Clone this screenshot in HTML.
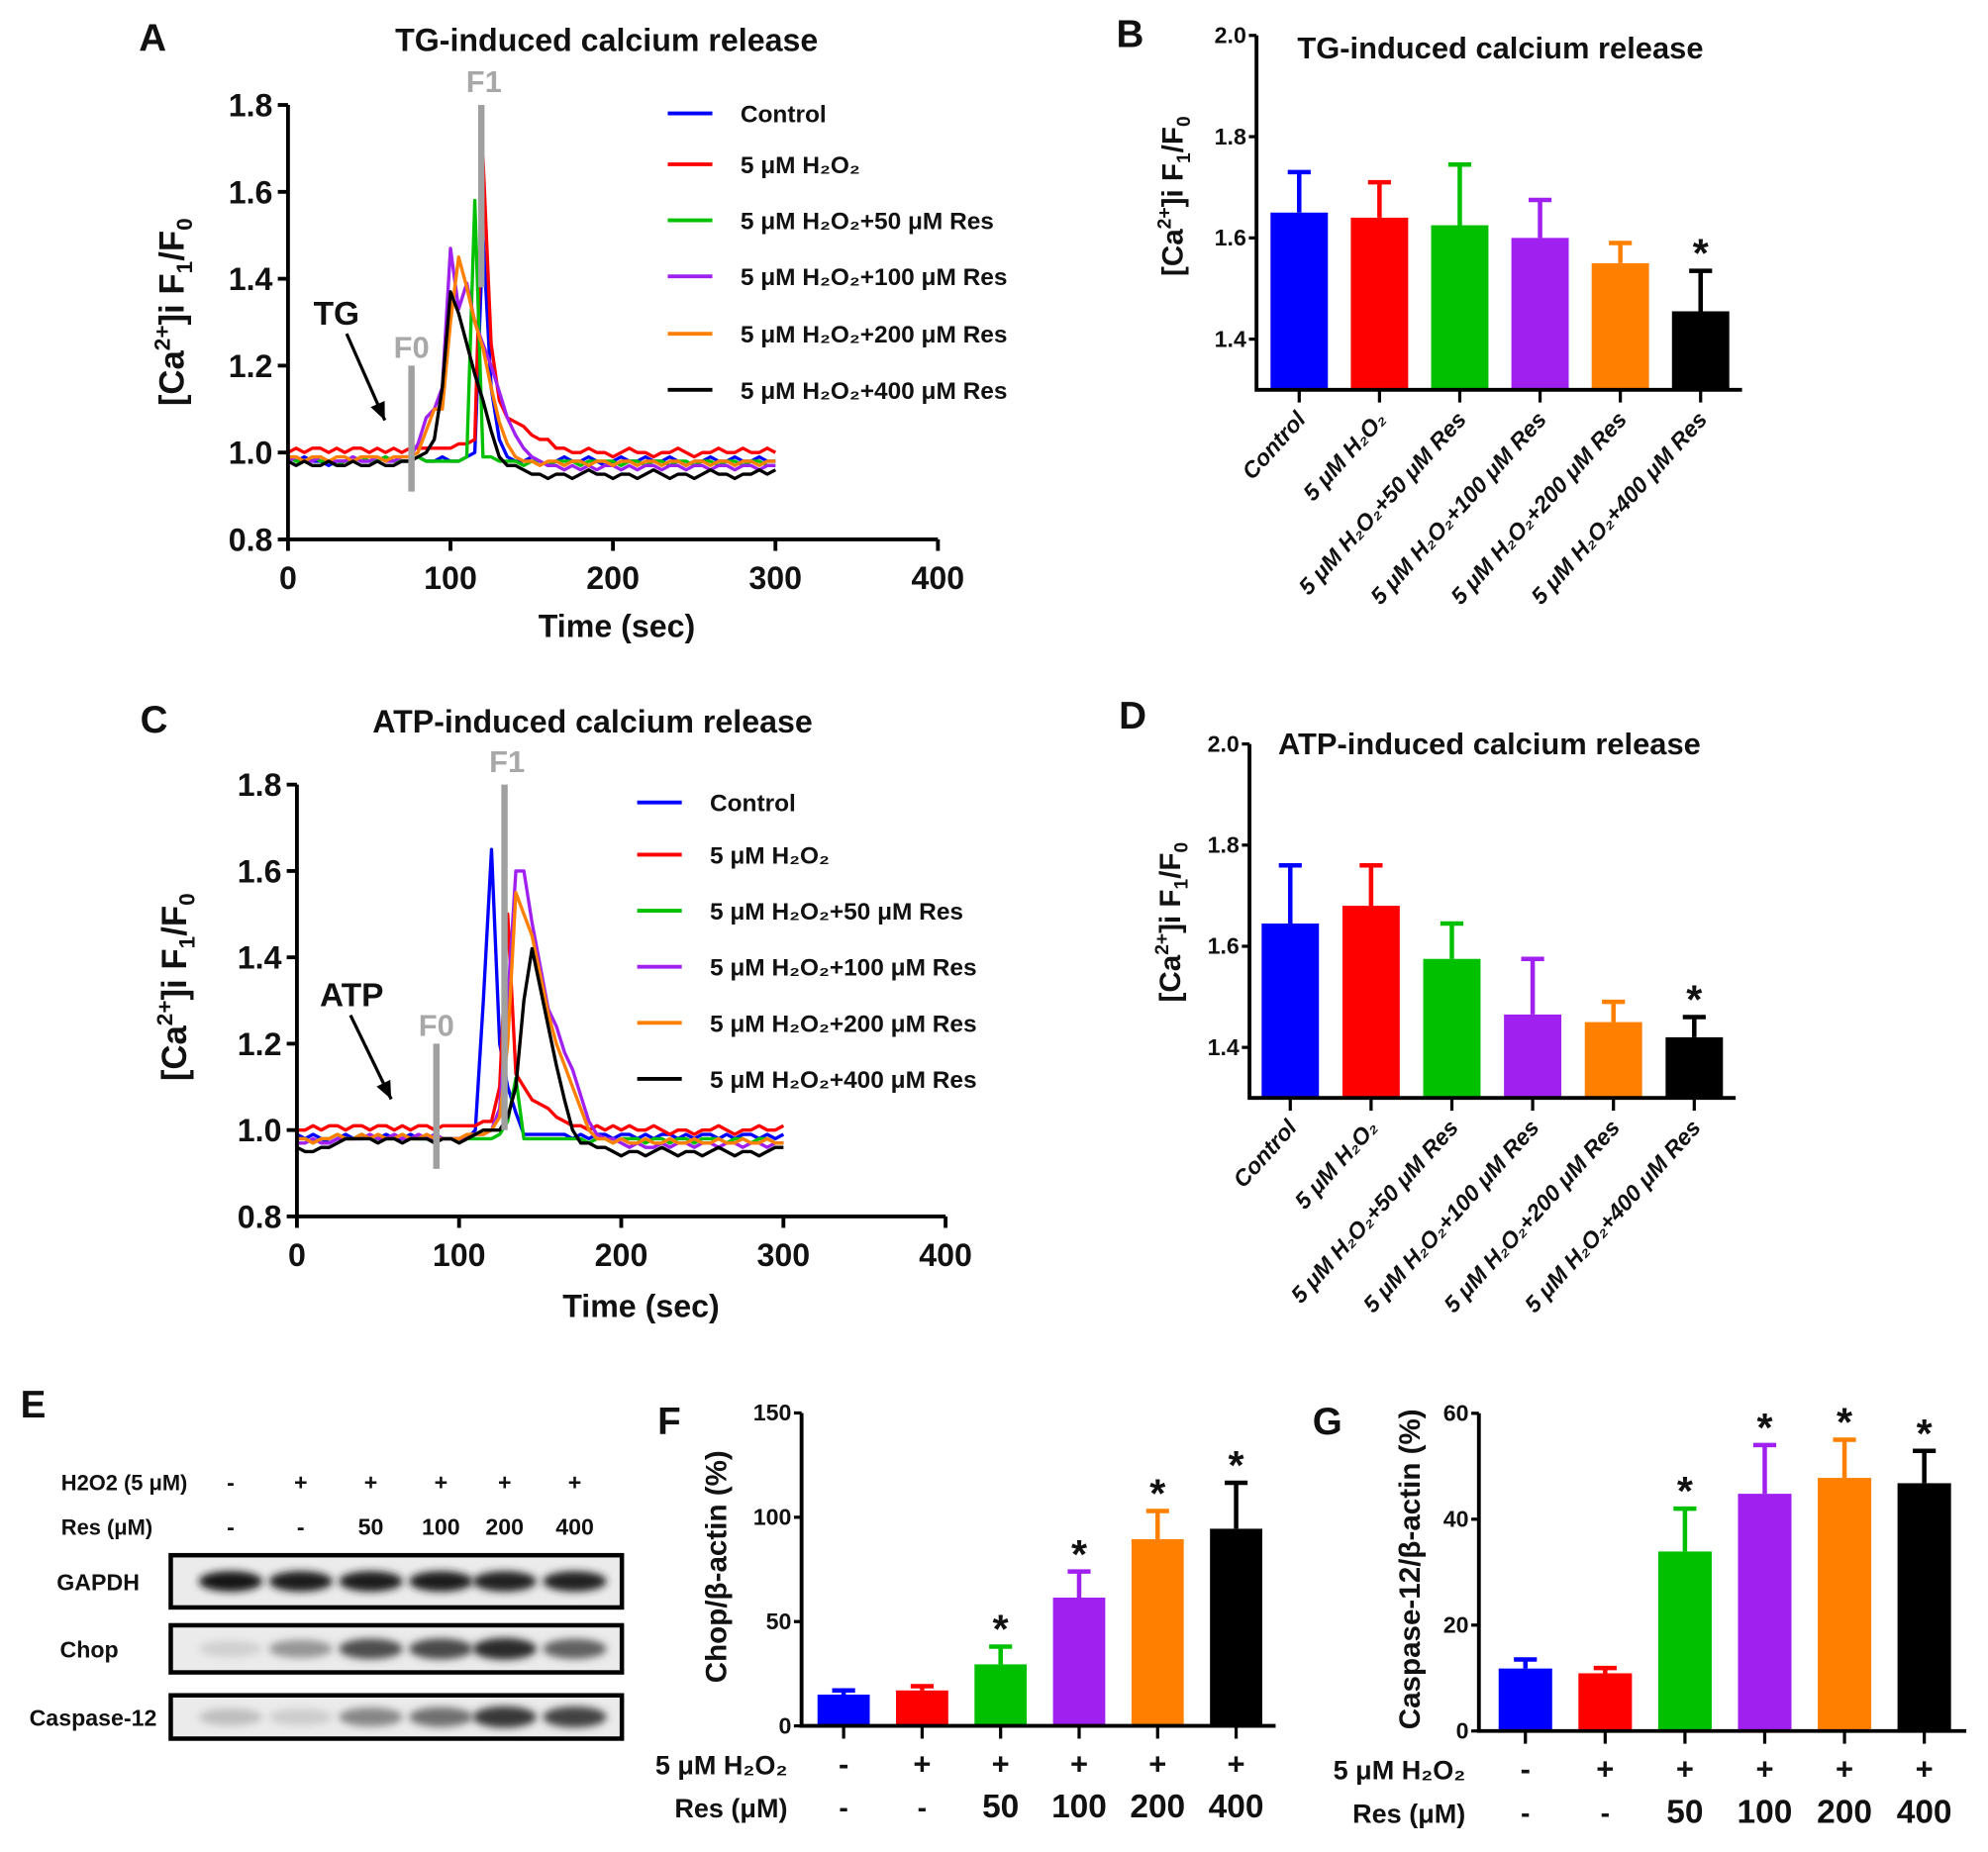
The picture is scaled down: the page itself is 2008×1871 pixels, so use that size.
<!DOCTYPE html>
<html><head><meta charset="utf-8"><title>Calcium release figure</title>
<style>
html,body{margin:0;padding:0;background:#fff;}
svg{display:block;}
text{font-family:"Liberation Sans Narrow","Liberation Sans",sans-serif;font-weight:bold;fill:#111;}
.wide{font-family:"Liberation Sans",sans-serif;}
</style></head>
<body>
<svg id="fig" xmlns="http://www.w3.org/2000/svg" width="2008" height="1871" viewBox="0 0 1560 1454" preserveAspectRatio="none">
<defs><filter id="blur" x="-50%" y="-50%" width="200%" height="200%"><feGaussianBlur stdDeviation="3"/></filter></defs>
</svg>
<script>
// ---------- shared time axis (sec) ----------
const T = [0,5,10,15,20,25,30,35,40,45,50,55,60,65,70,75,80,85,90,95,100,105,110,115,120,125,130,135,140,145,150,155,160,165,170,175,180,185,190,195,200,205,210,215,220,225,230,235,240,245,250,255,260,265,270,275,280,285,290,295,300];
const seriesNames = ["Control","5 μM H₂O₂","5 μM H₂O₂+50 μM Res","5 μM H₂O₂+100 μM Res","5 μM H₂O₂+200 μM Res","5 μM H₂O₂+400 μM Res"];
const seriesColors = ["#0000ff","#ff0000","#00c000","#a020f0","#ff8000","#000000"];
const xTicksLine = [0,100,200,300,400];
const yTicksLine = [0.8,1.0,1.2,1.4,1.6,1.8];
// ---------- panel A: TG traces ----------
const aControl = [0.99,0.98,0.99,0.98,0.98,0.97,0.98,0.98,0.99,0.98,0.98,0.98,0.99,0.98,0.98,0.98,0.99,0.98,0.98,0.99,0.98,0.98,0.99,1.0,1.5,1.15,1.03,0.99,0.98,0.98,0.99,0.98,0.97,0.98,0.99,0.98,0.98,0.99,0.98,0.97,0.98,0.99,0.98,0.98,0.99,0.98,0.98,0.99,0.98,0.97,0.98,0.98,0.99,0.98,0.98,0.99,0.98,0.98,0.99,0.98,0.98];
const aH2O2 = [1.0,1.01,1.0,1.01,1.01,1.0,1.01,1.0,1.01,1.01,1.0,1.01,1.0,1.01,1.0,1.01,1.01,1.01,1.01,1.01,1.01,1.02,1.02,1.03,1.68,1.25,1.12,1.08,1.07,1.06,1.04,1.03,1.03,1.01,1.01,1.0,1.0,1.01,1.0,1.0,0.99,1.0,1.01,1.0,1.0,0.99,1.0,1.0,1.01,1.0,0.99,1.0,1.0,1.01,1.0,1.0,1.01,1.0,1.0,1.01,1.0];
const aRes50 = [0.99,0.98,0.98,0.99,0.98,0.98,0.97,0.98,0.98,0.99,0.98,0.98,0.99,0.98,0.98,0.98,0.99,0.98,0.98,0.98,0.98,0.98,0.99,1.58,0.99,0.99,0.98,0.98,0.98,0.97,0.98,0.98,0.97,0.98,0.98,0.98,0.97,0.98,0.98,0.98,0.98,0.97,0.98,0.98,0.97,0.98,0.98,0.97,0.98,0.98,0.97,0.98,0.98,0.97,0.98,0.98,0.97,0.98,0.98,0.97,0.97];
const aRes100 = [0.98,0.99,0.98,0.98,0.99,0.98,0.98,0.98,0.99,0.98,0.98,0.99,0.98,0.98,0.99,0.99,1.02,1.08,1.1,1.15,1.47,1.33,1.39,1.3,1.25,1.2,1.14,1.08,1.04,1.01,0.99,0.98,0.97,0.97,0.96,0.97,0.96,0.97,0.96,0.97,0.97,0.96,0.97,0.96,0.97,0.97,0.96,0.97,0.97,0.96,0.97,0.97,0.96,0.97,0.97,0.96,0.97,0.97,0.96,0.97,0.97];
const aRes200 = [0.99,0.99,0.98,0.99,0.99,0.98,0.99,0.99,0.98,0.99,0.99,0.99,0.98,0.99,0.99,0.99,1.0,1.05,1.1,1.1,1.3,1.45,1.38,1.3,1.24,1.15,1.07,1.02,0.99,0.98,0.98,0.97,0.98,0.98,0.97,0.98,0.98,0.97,0.98,0.98,0.97,0.98,0.98,0.97,0.98,0.98,0.97,0.98,0.98,0.97,0.98,0.98,0.97,0.98,0.98,0.97,0.98,0.98,0.97,0.98,0.98];
const aRes400 = [0.98,0.97,0.98,0.97,0.97,0.98,0.97,0.97,0.98,0.97,0.97,0.98,0.97,0.97,0.98,0.98,0.99,1.0,1.03,1.15,1.37,1.32,1.25,1.18,1.12,1.05,0.99,0.97,0.97,0.96,0.95,0.95,0.94,0.95,0.95,0.94,0.95,0.96,0.95,0.95,0.94,0.95,0.95,0.94,0.95,0.96,0.95,0.94,0.95,0.95,0.94,0.95,0.96,0.95,0.95,0.94,0.95,0.95,0.96,0.95,0.96];
// ---------- panel C: ATP traces ----------
const cControl = [0.99,0.98,0.99,0.98,0.97,0.98,0.99,0.98,0.99,0.98,0.98,0.99,0.98,0.98,0.99,0.98,0.98,0.98,0.98,0.98,0.98,0.98,1.0,1.3,1.65,1.2,1.1,1.04,0.99,0.99,0.99,0.99,0.99,0.99,0.98,0.99,0.98,0.99,0.99,0.98,0.99,0.99,0.98,0.99,0.98,0.99,0.99,0.98,0.99,0.98,0.99,0.99,0.98,0.99,0.98,0.99,0.99,0.98,0.99,0.98,0.99];
const cH2O2 = [1.0,1.0,1.01,1.0,1.01,1.01,1.0,1.01,1.01,1.0,1.01,1.01,1.0,1.01,1.0,1.01,1.01,1.0,1.01,1.01,1.01,1.01,1.01,1.02,1.02,1.1,1.5,1.13,1.1,1.07,1.06,1.05,1.03,1.02,1.01,1.01,1.0,1.01,1.0,1.01,1.0,1.01,1.0,1.0,1.01,1.0,0.99,1.0,1.0,0.99,1.0,1.0,1.01,1.0,0.99,1.0,1.0,1.01,1.0,1.0,1.01];
const cRes50 = [0.98,0.98,0.97,0.98,0.98,0.99,0.98,0.98,0.99,0.98,0.98,0.98,0.98,0.99,0.98,0.98,0.98,0.99,0.98,0.98,0.98,0.98,0.98,0.98,0.98,0.99,1.02,1.12,0.98,0.98,0.98,0.98,0.98,0.98,0.98,0.98,0.97,0.98,0.98,0.97,0.98,0.98,0.98,0.97,0.98,0.98,0.97,0.98,0.98,0.97,0.98,0.98,0.98,0.97,0.98,0.98,0.97,0.98,0.98,0.97,0.97];
const cRes100 = [0.97,0.97,0.98,0.97,0.97,0.98,0.98,0.98,0.98,0.99,0.98,0.98,0.99,0.98,0.98,0.99,0.98,0.99,0.98,0.98,0.98,0.98,0.99,0.99,1.0,1.05,1.3,1.6,1.6,1.48,1.38,1.28,1.24,1.18,1.14,1.08,1.02,0.99,0.98,0.98,0.97,0.96,0.97,0.96,0.96,0.97,0.96,0.97,0.97,0.96,0.97,0.97,0.96,0.97,0.97,0.96,0.97,0.97,0.96,0.97,0.97];
const cRes200 = [0.98,0.98,0.97,0.98,0.98,0.99,0.98,0.98,0.99,0.98,0.99,0.98,0.98,0.99,0.98,0.98,0.99,0.98,0.98,0.98,0.98,0.99,0.99,0.99,1.0,1.03,1.2,1.55,1.5,1.45,1.36,1.27,1.2,1.15,1.1,1.05,1.0,0.98,0.98,0.97,0.98,0.97,0.97,0.98,0.97,0.97,0.98,0.97,0.97,0.98,0.97,0.97,0.98,0.97,0.97,0.98,0.97,0.97,0.98,0.97,0.97];
const cRes400 = [0.96,0.95,0.95,0.96,0.96,0.97,0.98,0.98,0.98,0.98,0.97,0.98,0.98,0.97,0.98,0.98,0.98,0.97,0.98,0.98,0.97,0.98,0.99,1.0,1.0,1.0,1.03,1.1,1.3,1.42,1.33,1.24,1.15,1.07,1.0,0.97,0.97,0.96,0.96,0.95,0.94,0.95,0.95,0.94,0.95,0.96,0.95,0.94,0.95,0.95,0.94,0.95,0.96,0.95,0.94,0.95,0.95,0.94,0.95,0.96,0.96];
// ---------- bar panels ----------
const barCategories = ["Control","5 μM H₂O₂","5 μM H₂O₂+50 μM Res","5 μM H₂O₂+100 μM Res","5 μM H₂O₂+200 μM Res","5 μM H₂O₂+400 μM Res"];
const bMeans = [1.65,1.64,1.625,1.60,1.55,1.455];
const bErrTop = [1.73,1.71,1.745,1.675,1.59,1.535];
const bSig = [false,false,false,false,false,true];
const dMeans = [1.645,1.68,1.575,1.465,1.45,1.42];
const dErrTop = [1.76,1.76,1.645,1.575,1.49,1.46];
const dSig = [false,false,false,false,false,true];
const bdTicks = [1.4,1.6,1.8,2.0];
const fMeans = [15,17,29.5,61.5,89.5,94.5];
const fErrTop = [17,19,38,74,103,116.5];
const fSig = [false,false,true,true,true,true];
const fTicks = [0,50,100,150];
const gMeans = [11.8,10.9,33.9,44.8,47.8,46.8];
const gErrTop = [13.5,11.9,42,54,55,52.9];
const gSig = [false,false,true,true,true,true];
const gTicks = [0,20,40,60];
const h2o2Row = ["-","+","+","+","+","+"];
const resRow = ["-","-","50","100","200","400"];
// ---------- western blot band intensities ----------
const blotRows = ["GAPDH","Chop","Caspase-12"];
const gapdhBands = [0.95,0.92,0.93,0.93,0.9,0.9];
const chopBands = [0.12,0.38,0.7,0.72,0.85,0.62];
const caspBands = [0.2,0.14,0.45,0.55,0.8,0.75];

const NS = "http://www.w3.org/2000/svg";
const svg = document.getElementById('fig');
function el(tag, attrs, parent, txt){
  const e = document.createElementNS(NS, tag);
  for (const k in attrs) e.setAttribute(k, attrs[k]);
  if (txt !== undefined) e.textContent = txt;
  (parent||svg).appendChild(e);
  return e;
}
function grp(name){
  const g = el('g', {});
  
  
  return g;
}
function txt(parent, name, x, y, s, size, anchor, extra){
  const a = Object.assign({x:x, y:y, 'font-size':size, 'text-anchor':anchor||'start'}, extra||{});
  const t = el('text', a, parent, s);
  
  
  return t;
}
function ratioLabel(parent, name, cx, cy, size){
  // [Ca2+]i F1/F0 rotated
  const t = el('text', {x:0, y:0, 'font-size':size, 'text-anchor':'middle', class:'wide', transform:`translate(${cx},${cy}) rotate(-90)`}, parent);
  
  
  el('tspan', {}, t, '[Ca');
  el('tspan', {dy:-size*0.4, 'font-size':size*0.65}, t, '2+');
  el('tspan', {dy:size*0.4}, t, ']i F');
  el('tspan', {dy:size*0.25, 'font-size':size*0.65}, t, '1');
  el('tspan', {dy:-size*0.25}, t, '/F');
  el('tspan', {dy:size*0.25, 'font-size':size*0.65}, t, '0');
}

// ---------- line chart ----------
function lineChart(o){
  const g = grp(o.name);
  const sx = t => o.x0 + (t/400)*(o.x1-o.x0);
  const sy = v => o.yb + (v-0.8)/1.0*(o.yt-o.yb);
  txt(g, o.letterName, o.letterX, o.letterY, o.letter, 30, 'start', {class:'wide'});
  txt(g, 'chart-title', o.titleX, o.titleY, o.title, 25, 'middle', {class:'wide'});
  ratioLabel(g, 'y-axis-title', o.ylabX, o.ylabY, 27);
  // series
  o.series.forEach((arr, s) => {
    let d = '';
    arr.forEach((v,i) => { d += (i?'L':'M') + sx(T[i]).toFixed(1) + ',' + sy(v).toFixed(1); });
    const p = el('path', {d:d, fill:'none', stroke:seriesColors[s], 'stroke-width':2.6, 'stroke-linejoin':'round'}, g);
    
    
  });
  // F0 / F1 markers
  const f1 = el('line', {x1:sx(o.f1t), x2:sx(o.f1t), y1:sy(1.8), y2:sy(o.f1bot), stroke:'#a0a0a0', 'stroke-width':5}, g);
  
  
  txt(g, 'f1-label', sx(o.f1t)+2, sy(1.8)-10, 'F1', 24, 'middle', {style:'fill:#a8a8a8'});
  const f0 = el('line', {x1:sx(o.f0t), x2:sx(o.f0t), y1:sy(1.2), y2:sy(0.91), stroke:'#a0a0a0', 'stroke-width':5}, g);
  
  
  txt(g, 'f0-label', sx(o.f0t), sy(1.2)-6, 'F0', 24, 'middle', {style:'fill:#a8a8a8'});
  // stimulus arrow
  txt(g, 'stimulus-label', o.stimX, o.stimY, o.stim, 26, 'middle', {class:'wide'});
  const ar = el('line', {x1:o.arrow[0], y1:o.arrow[1], x2:o.arrow[2], y2:o.arrow[3], stroke:'#000', 'stroke-width':2.5}, g);
  
  
  const ang = Math.atan2(o.arrow[3]-o.arrow[1], o.arrow[2]-o.arrow[0]);
  const hx = o.arrow[2], hy = o.arrow[3], L = 14, Wd = 6;
  const bx = hx - L*Math.cos(ang), by = hy - L*Math.sin(ang);
  const ah = el('polygon', {points:`${hx},${hy} ${bx - Wd*Math.sin(ang)},${by + Wd*Math.cos(ang)} ${bx + Wd*Math.sin(ang)},${by - Wd*Math.cos(ang)}`, fill:'#000'}, g);
  
  
  // axes
  const ax = el('path', {d:`M${o.x0},${sy(1.8)}V${o.yb}H${o.x1}`, fill:'none', stroke:'#000', 'stroke-width':3}, g);
  
  
  yTicksLine.forEach(v => {
    el('line', {x1:o.x0-8, x2:o.x0, y1:sy(v), y2:sy(v), stroke:'#000', 'stroke-width':3}, g);
    txt(g, 'y-tick-label', o.x0-12, sy(v)+9, v.toFixed(1), 25, 'end');
  });
  xTicksLine.forEach(t => {
    el('line', {x1:sx(t), x2:sx(t), y1:o.yb, y2:o.yb+9, stroke:'#000', 'stroke-width':3}, g);
    txt(g, 'x-tick-label', sx(t), o.yb+39, String(t), 25, 'middle');
  });
  txt(g, 'x-axis-title', o.xtX, o.xtY, 'Time (sec)', 25, 'middle');
  // legend
  seriesNames.forEach((n, s) => {
    const y = o.legY[s];
    const l = el('line', {x1:o.legX, x2:o.legX+35, y1:y, y2:y, stroke:seriesColors[s], 'stroke-width':3}, g);
    
    
    txt(g, 'legend-entry', o.legX+57, y+7, n, 19, 'start');
  });
}

lineChart({name:'panel-a-tg-traces', letter:'A', letterName:'panel-label-a', letterX:109, letterY:40,
  title:'TG-induced calcium release', titleX:476, titleY:40,
  x0:226, x1:736, yt:82.4, yb:423.5, ylabX:144, ylabY:245,
  series:[aControl,aH2O2,aRes50,aRes100,aRes200,aRes400],
  f1t:119, f1bot:1.38, f0t:76, stim:'TG', stimX:264, stimY:255, arrow:[272,262,302,330],
  xtX:484, xtY:500, legX:524, legY:[89,129,173,217,262,306]});
lineChart({name:'panel-c-atp-traces', letter:'C', letterName:'panel-label-c', letterX:110, letterY:575,
  title:'ATP-induced calcium release', titleX:465, titleY:575,
  x0:233, x1:742, yt:616, yb:955, ylabX:146, ylabY:775,
  series:[cControl,cH2O2,cRes50,cRes100,cRes200,cRes400],
  f1t:128, f1bot:1.0, f0t:86, stim:'ATP', stimX:276, stimY:790, arrow:[275,797,307,863],
  xtX:503, xtY:1034, legX:500, legY:[630,671,715,759,803,847]});

// ---------- bar chart ----------
function barChart(o){
  const g = grp(o.name);
  const sy = v => o.yb - (v-o.vmin)*o.k;
  const cx = i => o.c0 + i*o.pitch;
  txt(g, o.letterName, o.letterX, o.letterY, o.letter, 30, 'start', {class:'wide'});
  if (o.title) txt(g, 'chart-title', o.titleX, o.titleY, o.title, 24, 'start', {class:'wide'});
  o.means.forEach((v,i) => {
    const r = el('rect', {x:cx(i)-o.bw/2, y:sy(v), width:o.bw, height:o.yb-sy(v), fill:seriesColors[i]}, g);
    
    
    const e = el('path', {d:`M${cx(i)},${sy(v)}V${sy(o.err[i])}M${cx(i)-9},${sy(o.err[i])}H${cx(i)+9}`, stroke:seriesColors[i], 'stroke-width':3.5, fill:'none'}, g);
    
    
    if (o.sig[i]) txt(g, 'significance-star', cx(i), sy(o.err[i])-3, '*', 32, 'middle', {class:'wide'});
    el('line', {x1:cx(i), x2:cx(i), y1:o.yb, y2:o.yb+10, stroke:'#000', 'stroke-width':2.5}, g);
  });
  const ax = el('path', {d:`M${o.x0},${sy(o.ticks[o.ticks.length-1])}V${o.yb}H${o.xend}`, fill:'none', stroke:'#000', 'stroke-width':3}, g);
  
  
  o.ticks.forEach(v => {
    el('line', {x1:o.x0-6, x2:o.x0, y1:sy(v), y2:sy(v), stroke:'#000', 'stroke-width':2.5}, g);
    txt(g, 'y-tick-label', o.x0-8, sy(v)+6, o.fmt(v), 18, 'end');
  });
  if (o.rotLabels){
    barCategories.forEach((c,i) => {
      txt(g, 'x-category-label', 0, 0, c, 18, 'end', {class:'wide', 'font-style':'italic', transform:`translate(${cx(i)+6},${o.yb+24}) rotate(-48)`});
    });
  } else {
    h2o2Row.forEach((s,i) => txt(g, 'h2o2-sign', cx(i), o.row1Y, s, 24, 'middle'));
    resRow.forEach((s,i) => txt(g, 'res-dose', cx(i), o.row2Y, s, s.length>1?26:22, 'middle'));
    txt(g, 'h2o2-row-label', o.rowLabX, o.row1Y, '5 μM H₂O₂', 21, 'end');
    txt(g, 'res-row-label', o.rowLabX, o.row2Y, 'Res (μM)', 21, 'end');
  }
  if (o.ylab === 'ratio') ratioLabel(g, 'y-axis-title', o.ylabX, o.ylabY, 23);
  else txt(g, 'y-axis-title', 0, 0, o.ylab, 23, 'middle', {class:'wide', transform:`translate(${o.ylabX},${o.ylabY}) rotate(-90)`});
}

barChart({name:'panel-b-tg-bars', letter:'B', letterName:'panel-label-b', letterX:876, letterY:37,
  title:'TG-induced calcium release', titleX:1018, titleY:46,
  x0:986, xend:1367, yb:306, vmin:1.3, k:397.4, c0:1019.5, pitch:63, bw:45,
  means:bMeans, err:bErrTop, sig:bSig, ticks:bdTicks, fmt:v=>v.toFixed(1), rotLabels:true,
  ylab:'ratio', ylabX:928, ylabY:154});
barChart({name:'panel-d-atp-bars', letter:'D', letterName:'panel-label-d', letterX:878, letterY:572,
  title:'ATP-induced calcium release', titleX:1003, titleY:592,
  x0:980.5, xend:1362, yb:862, vmin:1.3, k:397, c0:1012.5, pitch:63.4, bw:45,
  means:dMeans, err:dErrTop, sig:dSig, ticks:bdTicks, fmt:v=>v.toFixed(1), rotLabels:true,
  ylab:'ratio', ylabX:926, ylabY:724});
barChart({name:'panel-f-chop-bars', letter:'F', letterName:'panel-label-f', letterX:516, letterY:1126,
  x0:629, xend:1001, yb:1355, vmin:0, k:1.638, c0:662, pitch:61.6, bw:41,
  means:fMeans, err:fErrTop, sig:fSig, ticks:fTicks, fmt:v=>String(v), rotLabels:false,
  row1Y:1393, row2Y:1427, rowLabX:618, ylab:'Chop/β-actin (%)', ylabX:570, ylabY:1230});
barChart({name:'panel-g-caspase-bars', letter:'G', letterName:'panel-label-g', letterX:1030, letterY:1126,
  x0:1160.5, xend:1543, yb:1359, vmin:0, k:4.157, c0:1197, pitch:62.6, bw:42,
  means:gMeans, err:gErrTop, sig:gSig, ticks:gTicks, fmt:v=>String(v), rotLabels:false,
  row1Y:1397, row2Y:1431, rowLabX:1150, ylab:'Caspase-12/β-actin (%)', ylabX:1114, ylabY:1232});

// ---------- panel E: western blot ----------
(function(){
  const g = grp('panel-e-western-blot');
  const lanes = [181,236,291,346,396,451];
  txt(g, 'panel-label-e', 16, 1113, 'E', 30, 'start', {class:'wide'});
  txt(g, 'h2o2-row-label', 48, 1170, 'H2O2 (5 μM)', 17, 'start');
  txt(g, 'res-row-label', 48, 1205, 'Res (μM)', 17, 'start');
  h2o2Row.forEach((s,i) => txt(g, 'h2o2-sign', lanes[i], 1170, s, 18, 'middle'));
  resRow.forEach((s,i) => txt(g, 'res-dose', lanes[i], 1205, s, 18, 'middle'));
  const boxes = [[1221,1262],[1276,1313],[1331,1365]];
  const data = [gapdhBands, chopBands, caspBands];
  const labX = [77,70,73];
  boxes.forEach((b,r) => {
    const bx = el('rect', {x:134, y:b[0], width:354, height:b[1]-b[0], fill:'#ebebeb', stroke:'#000', 'stroke-width':3.5}, g);
    
    
    txt(g, 'blot-row-label', labX[r], (b[0]+b[1])/2+7, blotRows[r], 18, 'middle');
    data[r].forEach((v,i) => {
      const c = Math.round(235 - v*225);
      const band = el('ellipse', {cx:lanes[i], cy:(b[0]+b[1])/2, rx:25, ry:(r===0?8:6+v*3), fill:`rgb(${c},${c},${c})`, filter:'url(#blur)'}, g);
      
      
    });
  });
})();
</script>
</body></html>
